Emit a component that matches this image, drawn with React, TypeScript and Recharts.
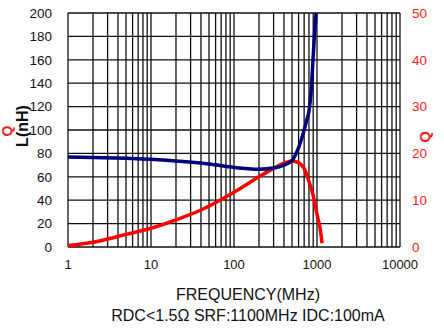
import { CartesianGrid, Line, LineChart, ReferenceLine, XAxis, YAxis } from "recharts";

// inductance curve (MHz -> nH)
const freqL = [1, 2, 5, 10, 20, 50, 100, 200, 300, 400, 500, 600, 700, 750, 800, 850, 900, 950, 975];
const valuesL = [77, 76.6, 75.8, 75, 73.6, 71, 68, 66.5, 67.5, 70, 74, 85, 100, 108, 116, 133, 163, 190, 200];

// Q curve (MHz -> Q)
const freqQ = [1, 2, 3, 5, 10, 20, 40, 100, 200, 300, 400, 500, 600, 700, 800, 900, 1000, 1100, 1150];
const valuesQ = [0.3, 1, 1.7, 2.7, 4, 5.8, 7.9, 11.7, 15, 16.8, 17.9, 18.4, 18, 16.8, 14, 11, 7, 3.5, 0.8];

const freqTicks = [1, 10, 100, 1000, 10000];
const minorFreqs = [
  1, 2, 3, 4, 5, 6, 7, 8, 9,
  10, 20, 30, 40, 50, 60, 70, 80, 90,
  100, 200, 300, 400, 500, 600, 700, 800, 900,
  1000, 2000, 3000, 4000, 5000, 6000, 7000, 8000, 9000,
  10000,
];
const lTicks = [0, 20, 40, 60, 80, 100, 120, 140, 160, 180, 200];
const qTicks = [0, 10, 20, 30, 40, 50];

const lData = freqL.map((f, i) => ({ f, l: valuesL[i] }));
const qData = freqQ.map((f, i) => ({ f, q: valuesQ[i] }));

const font = "'Liberation Sans', Arial, sans-serif";
const red = "#ff1a1a";
const gridColor = "#111";

export default function App() {
  return (
    <div style={{ position: "absolute", left: 0, top: 0, width: 444, height: 331, background: "#fff", fontFamily: font, overflow: "hidden" }}>
      <LineChart width={444} height={331} margin={{ top: 13, right: 0, bottom: 54, left: 8 }}>
        <CartesianGrid yAxisId="L" vertical={false} stroke={gridColor} strokeWidth={1.3} />
        <XAxis
          dataKey="f"
          type="number"
          scale="log"
          domain={[1, 10000]}
          ticks={freqTicks}
          allowDataOverflow
          tickLine={false}
          axisLine={false}
          tickSize={0}
          tickMargin={13}
          height={30}
          tick={{ fontSize: 13, fill: "#111", fontFamily: font }}
        />
        <YAxis
          yAxisId="L"
          domain={[0, 200]}
          ticks={lTicks}
          allowDataOverflow
          width={60}
          tickLine={false}
          axisLine={false}
          tickSize={0}
          tickMargin={16}
          tick={{ fontSize: 13.5, fill: "#111", fontFamily: font }}
        />
        <YAxis
          yAxisId="Q"
          orientation="right"
          domain={[0, 50]}
          ticks={qTicks}
          width={44}
          tickLine={false}
          axisLine={false}
          tickSize={0}
          tickMargin={12}
          tick={{ fontSize: 13.5, fill: red, fontFamily: font }}
        />
        {minorFreqs.map((v) => (
          <ReferenceLine key={v} x={v} yAxisId="L" stroke={gridColor} strokeWidth={1.3} />
        ))}
        <Line
          yAxisId="Q"
          data={qData}
          dataKey="q"
          type="monotone"
          stroke="#ff0000"
          strokeWidth={3.5}
          dot={false}
          isAnimationActive={false}
        />
        <Line
          yAxisId="L"
          data={lData}
          dataKey="l"
          type="monotone"
          stroke="#000080"
          strokeWidth={3.5}
          dot={false}
          isAnimationActive={false}
        />
      </LineChart>
      <div style={{ position: "absolute", left: 23, top: 126, transform: "translate(-50%, -50%) rotate(-90deg)", fontSize: 16, fontWeight: "bold", color: "#111", whiteSpace: "nowrap" }}>
        L(nH)
      </div>
      <div style={{ position: "absolute", left: 7, top: 131, transform: "translate(-50%, -50%) rotate(-90deg)", fontSize: 14, fontWeight: "bold", color: red }}>
        Q
      </div>
      <div style={{ position: "absolute", left: 424, top: 137, transform: "translate(-50%, -50%) rotate(-90deg)", fontSize: 15, fontWeight: "bold", color: red }}>
        Q
      </div>
      <div style={{ position: "absolute", left: 0, width: 496, top: 286, textAlign: "center", fontSize: 16, color: "#111", whiteSpace: "nowrap" }}>
        FREQUENCY(MHz)
      </div>
      <div style={{ position: "absolute", left: 0, width: 496, top: 307, textAlign: "center", fontSize: 16, color: "#111", whiteSpace: "nowrap" }}>
        RDC&lt;1.5Ω SRF:1100MHz IDC:100mA
      </div>
    </div>
  );
}
